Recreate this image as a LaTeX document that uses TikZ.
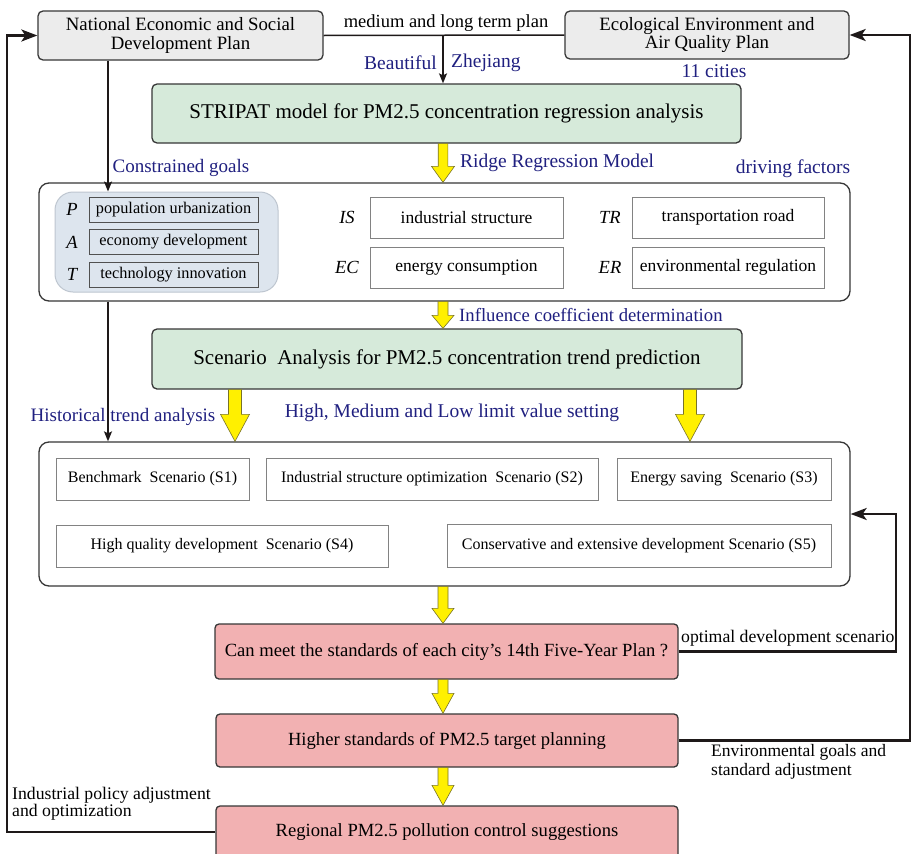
\documentclass[tikz,border=0pt]{standalone}
\usepackage{fontspec}
\setmainfont{Liberation Serif}
\usetikzlibrary{arrows.meta,calc}
\definecolor{navy}{RGB}{32,32,128}
\definecolor{bdr}{RGB}{55,55,55}
\definecolor{plangray}{RGB}{236,236,236}
\definecolor{greenf}{RGB}{214,234,218}
\definecolor{pinkf}{RGB}{242,177,178}
\definecolor{bluef}{RGB}{221,229,238}
\definecolor{bluebdr}{RGB}{190,198,208}
\definecolor{graybdr}{RGB}{130,130,130}
\definecolor{darkbdr}{RGB}{80,80,80}
\definecolor{linec}{RGB}{30,25,25}
\definecolor{yellowf}{RGB}{255,240,0}
\definecolor{yelbdr}{RGB}{120,115,40}
\newcommand\fsz[1]{\fontsize{#1pt}{#1pt}\selectfont}
\newcommand\ylarrow[5]{%
  \path[yel] let \p1=(#1), \p2=(#2) in
  (\x1-#3,\y1) -- (\x1-#3,\y2+#5) -- (\x1-#4,\y2+#5) -- (\x1,\y2) --
  (\x1+#4,\y2+#5) -- (\x1+#3,\y2+#5) -- (\x1+#3,\y1) -- cycle;}
\begin{document}
\begin{tikzpicture}[x=1pt,y=-1pt,
  every node/.style={inner sep=0pt, align=center},
  planbox/.style={draw=bdr, fill=plangray, rounded corners=5pt, line width=1.3pt, font=\fontsize{18.8pt}{18.5pt}\selectfont},
  greenbox/.style={draw=bdr, fill=greenf, rounded corners=5pt, line width=1.3pt, font=\fsz{21}},
  pinkbox/.style={draw=bdr, fill=pinkf, rounded corners=4pt, line width=1.3pt, font=\fsz{18.6}},
  groupbox/.style={draw=bdr, fill=white, rounded corners=10pt, line width=1.3pt},
  bluebox/.style={draw=bluebdr, fill=bluef, rounded corners=18pt, line width=1pt},
  factbox/.style={draw=graybdr, fill=white, line width=1pt, font=\fsz{17.5}},
  goalbox/.style={draw=darkbdr, fill=bluef, line width=1pt, font=\fsz{16.3}},
  scenbox/.style={draw=graybdr, fill=white, line width=1pt, font=\fsz{16}},
  symlab/.style={font=\fsz{18.5}\itshape},
  navylab/.style={text=navy, font=\fsz{19.5}},
  blacklab/.style={text=black, font=\fsz{17.7}},
  thinline/.style={line width=1.5pt, draw=linec},
  thickline/.style={line width=2.2pt, draw=linec},
  smalltip/.style={-{Stealth[length=10pt,width=8pt,inset=2pt]}},
  bigtip/.style={-{Stealth[length=16pt,width=12pt,inset=4pt]}},
  yel/.style={fill=yellowf, draw=yelbdr, line width=0.6pt}
]
\clip (0,0) rectangle (911,854);
\fill[white] (0,0) rectangle (911,854);

% top plans
\node[planbox, minimum width=285pt, minimum height=49pt] (nat) at (180.5,35.5) {National Economic and Social\\Development Plan};
\node[planbox, minimum width=284pt, minimum height=48pt] (eco) at (707,35) {Ecological Environment and\\Air Quality Plan};
\node[blacklab, font=\fsz{18.5}] (mlt) at (446,23) {medium and long term plan};

% STRIPAT
\node[greenbox, minimum width=589pt, minimum height=59pt] (stripat) at (446.5,113.5) {STRIPAT model for PM2.5 concentration regression analysis};
\node[navylab, anchor=east] (beau) at (437,63) {Beautiful};
\node[navylab, anchor=west] (zj) at (451,63) {Zhejiang};
\node[navylab] (cities) at (714,71) {11 cities};

% factors group
\node[groupbox, minimum width=811pt, minimum height=118pt] (fac) at (444.5,242) {};
\node[bluebox, minimum width=223pt, minimum height=100pt] (blue) at (166.5,242) {};
\node[goalbox, minimum width=169pt, minimum height=25pt] (pb) at (173.5,209.5) {population urbanization};
\node[goalbox, minimum width=169pt, minimum height=25pt] (ab) at (173.5,242) {economy development};
\node[goalbox, minimum width=169pt, minimum height=25pt] (tb) at (173.5,274.5) {technology innovation};
\node[symlab] (pl) at (72,209.5) {P};
\node[symlab] (al) at (72,242) {A};
\node[symlab] (tl) at (72,274.5) {T};
\node[factbox, minimum width=193pt, minimum height=41pt] (isb) at (466.5,217.5) {industrial structure};
\node[factbox, minimum width=193pt, minimum height=41pt] (ecb) at (466.5,267.5) {energy consumption};
\node[factbox, minimum width=192pt, minimum height=41pt] (trb) at (728,217.5) {transportation road};
\node[factbox, minimum width=192pt, minimum height=41pt] (erb) at (728,267.5) {environmental regulation};
\node[symlab] (isl) at (347,217) {IS};
\node[symlab] (ecl) at (347,267) {EC};
\node[symlab] (trl) at (610,217) {TR};
\node[symlab] (erl) at (610,267) {ER};
\node[navylab, anchor=west] (ridge) at (460,163) {Ridge Regression Model};
\node[navylab] (drv) at (793,169) {driving factors};
\node[navylab, font=\fsz{19}] (cons) at (181,168) {Constrained goals};

% scenario analysis
\node[greenbox, minimum width=590pt, minimum height=60pt] (sa) at (447,359) {Scenario\ \ Analysis for PM2.5 concentration trend prediction};
\node[navylab, anchor=west, font=\fsz{18.7}] (infl) at (459,315) {Influence coefficient determination};
\node[navylab, font=\fsz{19}] (hist) at (123,417) {Historical trend analysis};
\node[navylab] (hml) at (452,413) {High, Medium and Low limit value setting};

% scenarios
\node[groupbox, minimum width=811pt, minimum height=144pt] (cont) at (444.5,514) {};
\node[scenbox, minimum width=193pt, minimum height=42pt] (s1) at (152.5,479) {Benchmark\ \ Scenario (S1)};
\node[scenbox, minimum width=332pt, minimum height=42pt] (s2) at (432,479) {Industrial structure optimization\ \ Scenario (S2)};
\node[scenbox, minimum width=214pt, minimum height=42pt] (s3) at (724,479) {Energy saving\ \ Scenario (S3)};
\node[scenbox, minimum width=332pt, minimum height=42pt] (s4) at (222,546) {High quality development\ \ Scenario (S4)};
\node[scenbox, minimum width=384pt, minimum height=43pt] (s5) at (639,546) {Conservative and extensive development Scenario (S5)};

% pink boxes
\node[pinkbox, minimum width=463pt, minimum height=55pt] (can) at (446.5,651.5) {Can meet the standards of each city’s 14th Five-Year Plan ?};
\node[pinkbox, minimum width=462pt, minimum height=53pt] (hig) at (447,740.5) {Higher standards of PM2.5 target planning};
\node[pinkbox, minimum width=462pt, minimum height=52pt] (reg) at (447,832) {Regional PM2.5 pollution control suggestions};

\node[blacklab, anchor=west] (opt) at (681,638) {optimal development scenario};
\node[blacklab, anchor=north west, align=left, font=\fontsize{17.5pt}{19pt}\selectfont] (envl) at (711,744) {Environmental goals and\\standard adjustment};
\node[blacklab, anchor=north west, align=left, font=\fontsize{17.7pt}{17pt}\selectfont] (indl) at (12,787) {Industrial policy adjustment\\and optimization};

% coordinates for vertical axes
\coordinate (cx) at (443,0);
\coordinate (hx) at (108,0);
\coordinate (lx) at (235,0);
\coordinate (rx) at (690,0);

% thin connectors
\draw[thinline] (nat.east) -- (eco.west);
\draw[thinline, smalltip] (cx |- nat.east) -- (cx |- stripat.north);
\draw[thinline, smalltip] (hx |- nat.south) -- (hx |- blue.north);
\draw[thinline, smalltip] (hx |- fac.south) -- (hx |- cont.north);

% feedback loops
\draw[thickline, bigtip] (can.east) -- ++(217,0) |- (cont.east);
\draw[thickline, bigtip] (hig.east) -- ++(231,0) |- (eco.east);
\draw[thickline, bigtip] (reg.west) -- ++(-208,0) |- (nat.west);

% yellow arrows
\ylarrow{cx |- stripat.south}{cx |- fac.north}{4.8pt}{11.5pt}{16pt}
\ylarrow{cx |- fac.south}{cx |- sa.north}{5pt}{11pt}{13pt}
\ylarrow{lx |- sa.south}{lx |- cont.north}{6.5pt}{14.5pt}{27pt}
\ylarrow{rx |- sa.south}{rx |- cont.north}{6.5pt}{14.5pt}{27pt}
\ylarrow{cx |- cont.south}{cx |- can.north}{5pt}{11pt}{15pt}
\ylarrow{cx |- can.south}{cx |- hig.north}{5pt}{11pt}{20pt}
\ylarrow{cx |- hig.south}{cx |- reg.north}{5pt}{11pt}{20pt}
\end{tikzpicture}
\end{document}
